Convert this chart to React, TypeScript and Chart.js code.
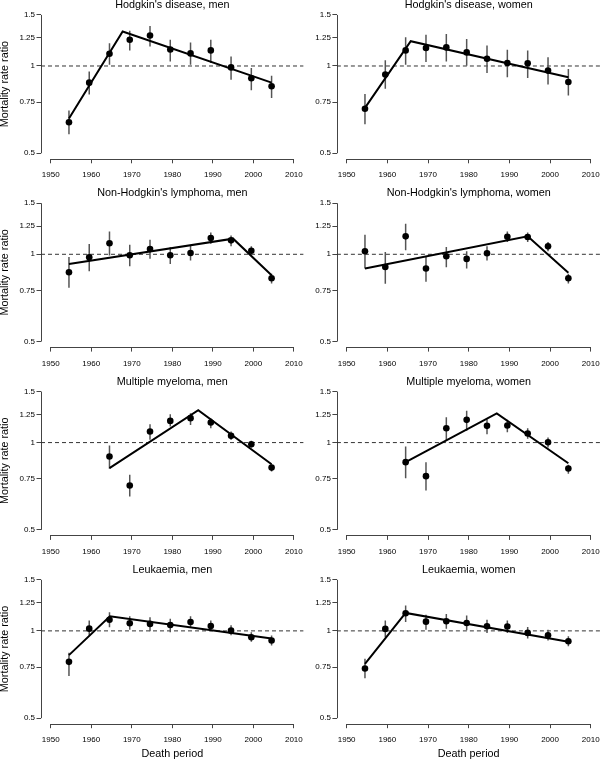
import React, { useEffect, useRef } from 'react';
import { Chart, registerables } from 'chart.js';

Chart.register(...registerables);

// ---------- data ----------
const periods = [1954.5, 1959.5, 1964.5, 1969.5, 1974.5, 1979.5, 1984.5, 1989.5, 1994.5, 1999.5, 2004.5];
const mmPeriods = [1964.5, 1969.5, 1974.5, 1979.5, 1984.5, 1989.5, 1994.5, 1999.5, 2004.5];
const xTicks = [1950, 1960, 1970, 1980, 1990, 2000, 2010];
const yTicks = [0.5, 0.75, 1, 1.25, 1.5];

// Hodgkin's disease, men
const hdMenRR = [0.64, 0.876, 1.102, 1.231, 1.274, 1.14, 1.105, 1.132, 0.989, 0.907, 0.851];
const hdMenLo = [0.581, 0.797, 1.01, 1.132, 1.168, 1.037, 1.01, 1.024, 0.897, 0.825, 0.776];
const hdMenHi = [0.702, 0.958, 1.199, 1.322, 1.375, 1.231, 1.205, 1.231, 1.079, 0.984, 0.926];
const hdMenFitX = [1954.5, 1967.75, 2004.5];
const hdMenFitY = [0.659, 1.315, 0.876];

// Hodgkin's disease, women
const hdWomenRR = [0.712, 0.934, 1.132, 1.153, 1.159, 1.114, 1.059, 1.024, 1.021, 0.964, 0.881];
const hdWomenLo = [0.629, 0.834, 1.01, 1.032, 1.037, 1.002, 0.946, 0.914, 0.909, 0.863, 0.791];
const hdWomenHi = [0.801, 1.046, 1.257, 1.281, 1.288, 1.238, 1.177, 1.137, 1.132, 1.071, 0.976];
const hdWomenFitX = [1954.5, 1965.75, 2004.5];
const hdWomenFitY = [0.717, 1.218, 0.914];

// Non-Hodgkin's lymphoma, men
const nhlMenRR = [0.867, 0.976, 1.091, 0.992, 1.043, 0.992, 1.01, 1.137, 1.117, 1.029, 0.827];
const nhlMenLo = [0.766, 0.874, 0.991, 0.909, 0.966, 0.926, 0.951, 1.088, 1.065, 0.992, 0.793];
const nhlMenHi = [0.979, 1.085, 1.199, 1.079, 1.123, 1.057, 1.071, 1.19, 1.162, 1.065, 0.856];
const nhlMenFitX = [1954.5, 1995.0, 2004.5];
const nhlMenFitY = [0.926, 1.132, 0.847];

// Non-Hodgkin's lymphoma, women
const nhlWomenRR = [1.024, 0.904, 1.153, 0.893, 0.984, 0.964, 1.008, 1.15, 1.147, 1.065, 0.827];
const nhlWomenLo = [0.893, 0.791, 1.032, 0.804, 0.902, 0.893, 0.951, 1.102, 1.102, 1.024, 0.793];
const nhlWomenHi = [1.168, 1.018, 1.274, 0.984, 1.059, 1.024, 1.065, 1.199, 1.19, 1.102, 0.856];
const nhlWomenFitX = [1954.5, 1994.5, 2004.5];
const nhlWomenFitY = [0.893, 1.153, 0.863];

// Multiple myeloma, men
const mmMenRR = [0.895, 0.711, 1.092, 1.188, 1.214, 1.173, 1.055, 0.987, 0.82];
const mmMenLo = [0.812, 0.652, 1.022, 1.136, 1.151, 1.121, 1.022, 0.962, 0.795];
const mmMenHi = [0.977, 0.774, 1.157, 1.253, 1.263, 1.214, 1.092, 1.014, 0.842];
const mmMenFitX = [1964.5, 1986.4, 2004.5];
const mmMenFitY = [0.816, 1.293, 0.842];

// Multiple myeloma, women
const mmWomenRR = [0.856, 0.766, 1.121, 1.198, 1.142, 1.145, 1.075, 1.003, 0.814];
const mmWomenLo = [0.754, 0.683, 1.017, 1.098, 1.069, 1.086, 1.03, 0.962, 0.78];
const mmWomenHi = [0.969, 0.856, 1.224, 1.287, 1.204, 1.198, 1.121, 1.041, 0.838];
const mmWomenFitX = [1964.5, 1986.9, 2004.5];
const mmWomenFitY = [0.856, 1.26, 0.849];

// Leukaemia, men
const leuMenRR = [0.782, 1.018, 1.093, 1.062, 1.057, 1.048, 1.073, 1.04, 1.002, 0.951, 0.926];
const leuMenLo = [0.699, 0.966, 1.029, 1.01, 0.997, 0.989, 1.024, 0.997, 0.966, 0.917, 0.89];
const leuMenHi = [0.84, 1.085, 1.159, 1.123, 1.114, 1.102, 1.123, 1.085, 1.046, 0.989, 0.964];
const leuMenFitX = [1954.5, 1964.6, 2004.5];
const leuMenFitY = [0.825, 1.123, 0.941];

// Leukaemia, women
const leuWomenRR = [0.742, 1.016, 1.15, 1.076, 1.079, 1.065, 1.037, 1.035, 0.984, 0.966, 0.921];
const leuWomenLo = [0.686, 0.951, 1.073, 1.01, 1.018, 1.005, 0.984, 0.984, 0.941, 0.926, 0.886];
const leuWomenHi = [0.801, 1.085, 1.224, 1.137, 1.144, 1.129, 1.093, 1.085, 1.032, 1.01, 0.958];
const leuWomenFitX = [1954.5, 1964.5, 2004.5];
const leuWomenFitY = [0.77, 1.153, 0.917];

const titles = [
  "Hodgkin's disease, men", "Hodgkin's disease, women",
  "Non-Hodgkin's lymphoma, men", "Non-Hodgkin's lymphoma, women",
  'Multiple myeloma, men', 'Multiple myeloma, women',
  'Leukaemia, men', 'Leukaemia, women',
];
const yAxisTitle = 'Mortality rate ratio';
const xAxisTitle = 'Death period';
const refValue = 1;

const panels = [
  { x: periods, rr: hdMenRR, lo: hdMenLo, hi: hdMenHi, fx: hdMenFitX, fy: hdMenFitY },
  { x: periods, rr: hdWomenRR, lo: hdWomenLo, hi: hdWomenHi, fx: hdWomenFitX, fy: hdWomenFitY },
  { x: periods, rr: nhlMenRR, lo: nhlMenLo, hi: nhlMenHi, fx: nhlMenFitX, fy: nhlMenFitY },
  { x: periods, rr: nhlWomenRR, lo: nhlWomenLo, hi: nhlWomenHi, fx: nhlWomenFitX, fy: nhlWomenFitY },
  { x: mmPeriods, rr: mmMenRR, lo: mmMenLo, hi: mmMenHi, fx: mmMenFitX, fy: mmMenFitY },
  { x: mmPeriods, rr: mmWomenRR, lo: mmWomenLo, hi: mmWomenHi, fx: mmWomenFitX, fy: mmWomenFitY },
  { x: periods, rr: leuMenRR, lo: leuMenLo, hi: leuMenHi, fx: leuMenFitX, fy: leuMenFitY },
  { x: periods, rr: leuWomenRR, lo: leuWomenLo, hi: leuWomenHi, fx: leuWomenFitX, fy: leuWomenFitY },
];

// ---------- layout ----------
const FONT = "'Liberation Sans', Arial, Helvetica, sans-serif";
const X_EXT = (xTicks[xTicks.length - 1] - xTicks[0]) * 0.04;
const X_MIN = xTicks[0] - X_EXT;
const X_MAX = xTicks[xTicks.length - 1] + X_EXT;
const Y_LOGEXT = Math.log(yTicks[yTicks.length - 1] / yTicks[0]) * 0.04;
const Y_MIN = yTicks[0] * Math.exp(-Y_LOGEXT);
const Y_MAX = yTicks[yTicks.length - 1] * Math.exp(Y_LOGEXT);

const TITLE_SIZE = 10.8;
const TITLE_LH = 0.8;
const TICK_SIZE = 8;
const X_AXIS_H = 36;
const CANVAS_W = 316;
const CANVAS_H = 203;
const ROW_STEP = 188.3;
const colSpec = [
  { left: 0, areaLeft: 41, areaRight: 303.6 },
  { left: 296, areaLeft: 336.9, areaRight: 600.5 },
];

const axisLinePlugin = {
  id: 'rAxisLines',
  beforeDatasetsDraw(chart: any) {
    const { ctx, chartArea, scales } = chart;
    const xs = scales.x;
    const ys = scales.y;
    const lx = Math.round(chartArea.left) + 0.5;
    const by = Math.round(chartArea.bottom) + 0.5;
    ctx.save();
    ctx.strokeStyle = '#444';
    ctx.lineWidth = 1;
    ctx.beginPath();
    ctx.moveTo(lx, ys.getPixelForValue(yTicks[0]));
    ctx.lineTo(lx, ys.getPixelForValue(yTicks[yTicks.length - 1]));
    ctx.moveTo(xs.getPixelForValue(xTicks[0]), by);
    ctx.lineTo(xs.getPixelForValue(xTicks[xTicks.length - 1]), by);
    ctx.stroke();
    ctx.restore();
  },
};

function Panel({ idx }: { idx: number }) {
  const ref = useRef<HTMLCanvasElement>(null);
  const col = idx % 2;
  const row = Math.floor(idx / 2);
  const cs = colSpec[col];
  const areaTop = 9.4 + ROW_STEP * row;
  const areaBottom = 158.8 + ROW_STEP * row;
  const canvasTop = Math.floor(areaTop) - 16;
  const padTop = areaTop - canvasTop - TITLE_SIZE * TITLE_LH;
  const padBottom = canvasTop + CANVAS_H - areaBottom - X_AXIS_H;
  const yW = cs.areaLeft - cs.left;
  const padRight = cs.left + CANVAS_W - cs.areaRight;
  const isBottom = row === 3;

  useEffect(() => {
    const p = panels[idx];
    const pts = p.x.map((xv, i) => ({ x: xv, y: p.rr[i] }));
    const err: any[] = [];
    p.x.forEach((xv, i) => {
      err.push({ x: xv, y: p.lo[i] }, { x: xv, y: p.hi[i] }, { x: xv, y: null });
    });
    const fit = p.fx.map((xv, i) => ({ x: xv, y: p.fy[i] }));
    const refLine = [{ x: X_MIN, y: refValue }, { x: X_MAX, y: refValue }];

    const chart = new Chart(ref.current as HTMLCanvasElement, {
      type: 'line',
      data: {
        datasets: [
          { data: pts, showLine: false, pointRadius: 3.3, pointBackgroundColor: '#000', pointBorderWidth: 0, order: 0 },
          { data: fit, borderColor: '#000', borderWidth: 2, pointRadius: 0, order: 1, borderJoinStyle: 'miter' },
          { data: err, borderColor: '#555', borderWidth: 1.5, pointRadius: 0, spanGaps: false, order: 2 },
          { data: refLine, borderColor: '#333', borderWidth: 1, borderDash: [4, 3], pointRadius: 0, order: 3 },
        ],
      } as any,
      options: {
        responsive: false,
        animation: false,
        events: [],
        layout: { padding: { left: 0, right: padRight, top: padTop, bottom: padBottom } },
        plugins: {
          legend: { display: false },
          tooltip: { enabled: false },
          title: {
            display: true,
            text: titles[idx],
            fullSize: false,
            color: '#000',
            font: { family: FONT, size: TITLE_SIZE, weight: 'normal', lineHeight: TITLE_LH },
            padding: { top: 0, bottom: 0 },
          },
        },
        scales: {
          x: {
            type: 'linear',
            min: X_MIN,
            max: X_MAX,
            afterBuildTicks: (s: any) => { s.ticks = xTicks.map((v) => ({ value: v })); },
            afterFit: (s: any) => { s.height = X_AXIS_H; },
            ticks: { autoSkip: false, maxRotation: 0, padding: 7, color: '#000', font: { family: FONT, size: TICK_SIZE }, callback: (v: any) => String(v) },
            grid: { drawOnChartArea: false, drawTicks: true, tickLength: 4.5, color: '#444', lineWidth: 1 },
            border: { display: false },
            title: { display: isBottom, text: xAxisTitle, color: '#000', font: { family: FONT, size: TITLE_SIZE, lineHeight: 1 }, padding: { top: 0, bottom: 0.4 } },
          },
          y: {
            type: 'logarithmic',
            min: Y_MIN,
            max: Y_MAX,
            afterBuildTicks: (s: any) => { s.ticks = yTicks.map((v) => ({ value: v })); },
            afterFit: (s: any) => { s.width = yW; },
            ticks: { autoSkip: false, padding: 1.5, color: '#000', font: { family: FONT, size: TICK_SIZE }, callback: (v: any) => String(v) },
            grid: { drawOnChartArea: false, drawTicks: true, tickLength: 4.5, color: '#444', lineWidth: 1 },
            border: { display: false },
            title: { display: col === 0, text: yAxisTitle, color: '#000', font: { family: FONT, size: TITLE_SIZE, lineHeight: 1 }, padding: { top: 0, bottom: 0 } },
          },
        },
      } as any,
      plugins: [axisLinePlugin],
    });
    return () => chart.destroy();
  }, [idx]);

  return (
    <canvas
      ref={ref}
      width={CANVAS_W}
      height={CANVAS_H}
      style={{ position: 'absolute', left: cs.left, top: canvasTop, width: CANVAS_W, height: CANVAS_H }}
    />
  );
}

export default function App() {
  return (
    <div style={{ position: 'absolute', left: 0, top: 0, width: 600, height: 761, overflow: 'hidden', background: '#fff' }}>
      {panels.map((_, i) => (
        <Panel key={i} idx={i} />
      ))}
    </div>
  );
}
